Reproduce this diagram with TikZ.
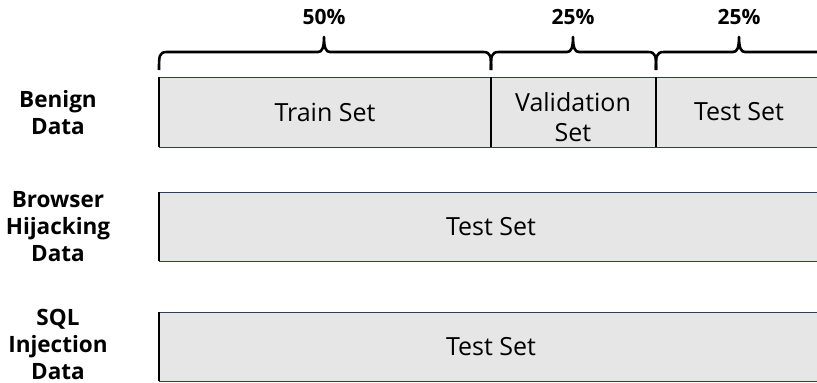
\documentclass[tikz,border=0pt]{standalone}
\usepackage{fontspec}
\setmainfont{Open Sans}
\definecolor{setfill}{RGB}{231,230,230}
\definecolor{setedge}{RGB}{47,62,88}
\tikzset{
  x=1pt, y=-1pt,
  setbox/.style={fill=setfill, draw=setedge, line width=0.9pt},
  sep/.style={draw=black, line width=2pt},
  settext/.style={font=\fontsize{25}{30}\selectfont, align=center, inner sep=0pt},
  rowlabel/.style={font=\bfseries\fontsize{22.5}{27}\selectfont, align=center, inner sep=0pt},
  pct/.style={font=\bfseries\fontsize{21}{24}\selectfont, inner sep=0pt},
  bracepath/.style={draw=black, line width=2.6pt, line join=round}
}
% curly brace from x=#1 to x=#3 with its tip at x=#2
\newcommand{\spanbrace}[3]{%
  \draw[bracepath] (#1,70) .. controls (#1,56) and (#1,52) .. (#1+8,52)
    -- (#2-6,52) .. controls (#2-2,52) and (#2,48) .. (#2,37)
    .. controls (#2,48) and (#2+2,52) .. (#2+6,52)
    -- (#3-8,52) .. controls (#3,52) and (#3,56) .. (#3,70);}
\begin{document}
\begin{tikzpicture}
\useasboundingbox (0,0) rectangle (817,383);
\begin{scope}
\clip (0,0) rectangle (817,383);
% benign data split
\draw[setbox] (159,77) rectangle (830,147);
\draw[sep] (159,77) -- (159,147);
\draw[sep] (491,77) -- (491,147);
\draw[sep] (656,77) -- (656,147);
\node[settext] (train) at (325,112) {Train Set};
\node[settext] (valid) at (573,117) {Validation\\Set};
\node[settext] (test1) at (739,112) {Test Set};
% attack data rows
\draw[setbox] (159,192) rectangle (830,261);
\draw[sep] (159,192) -- (159,261);
\node[settext] (test2) at (491,227) {Test Set};
\draw[setbox] (159,312) rectangle (830,381);
\draw[sep] (159,312) -- (159,381);
\node[settext] (test3) at (491,347) {Test Set};
% braces and shares
\spanbrace{159}{324}{491}
\spanbrace{491}{573}{656}
\spanbrace{656}{739}{830}
\end{scope}
\node[pct] (p50) at (324,17) {50\%};
\node[pct] (p25a) at (573,17) {25\%};
\node[pct] (p25b) at (739,17) {25\%};
% row labels
\node[rowlabel] (benign) at (58,113) {Benign\\Data};
\node[rowlabel] (hijack) at (58,227) {Browser\\Hijacking\\Data};
\node[rowlabel] (sqli) at (58,344) {SQL\\Injection\\Data};
\end{tikzpicture}
\end{document}
